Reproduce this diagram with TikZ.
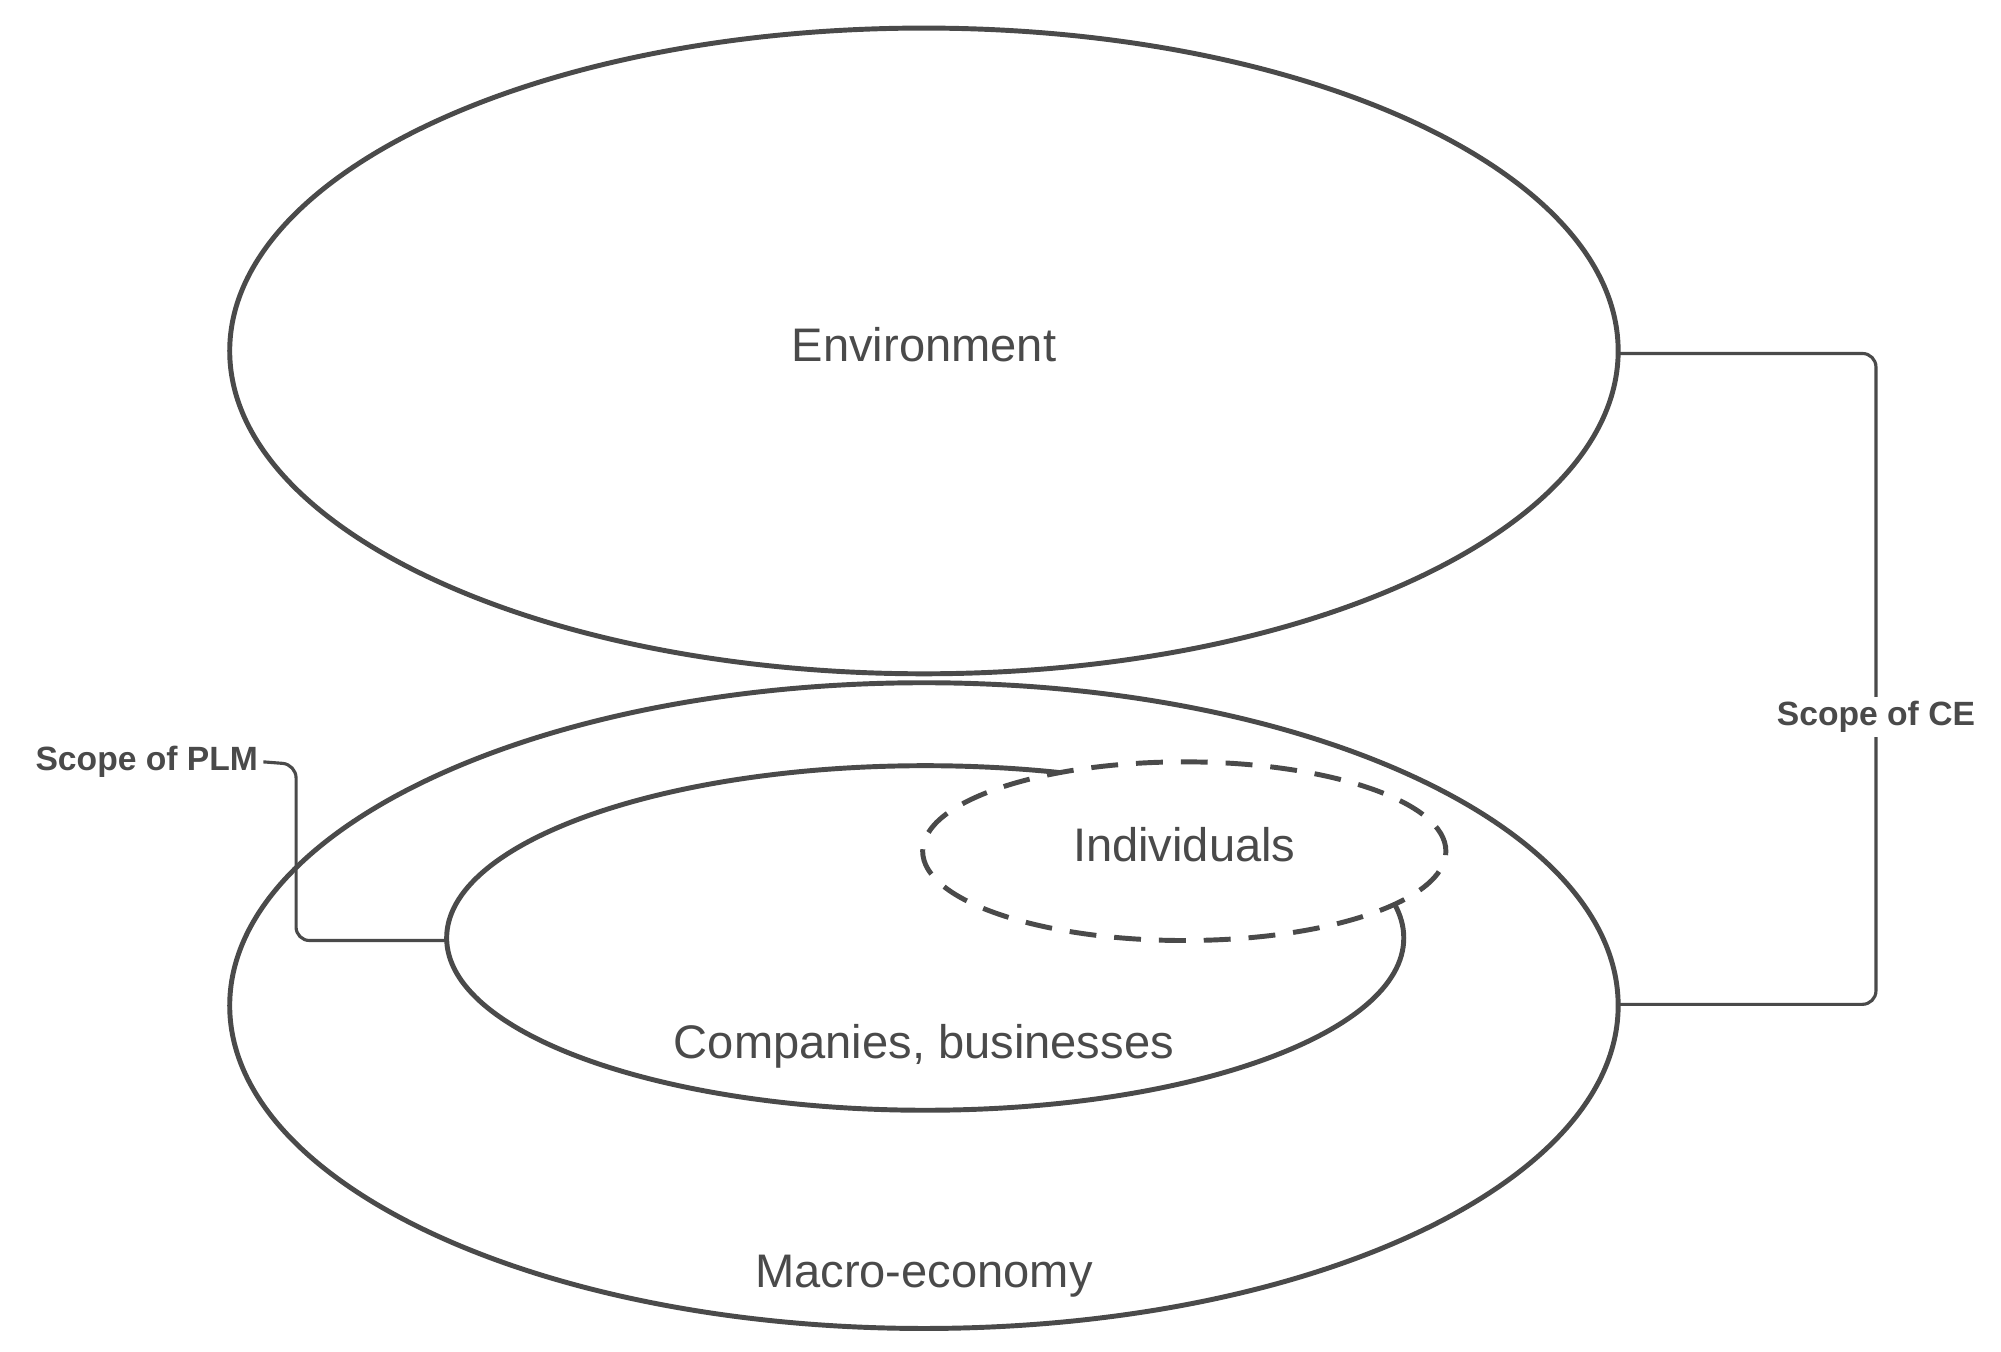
\documentclass[tikz,border=0pt]{standalone}
\usepackage{fontspec}
\setmainfont{Liberation Sans}
\usetikzlibrary{shapes.geometric}
\definecolor{ln}{HTML}{4A4A4A}
\begin{document}
\begin{tikzpicture}[
  ell/.style={ellipse,draw=ln,line width=1.1pt,inner sep=0pt,fill=white},
  lbl/.style={font=\fontsize{10.5}{12}\selectfont,text=ln},
  scope/.style={font=\bfseries\fontsize{7.5}{9}\selectfont,text=ln,fill=white,inner sep=1pt},
  conn/.style={draw=ln,line width=0.7pt,rounded corners=3pt}]
\useasboundingbox (0,0) rectangle (15.68,10.59);
\node[ell,minimum width=10.88cm,minimum height=5.06cm] (env) at (7.24,7.84) {};
\node[ell,minimum width=10.88cm,minimum height=5.06cm] (mac) at (7.24,2.71) {};
\node[ell,minimum width=7.5cm,minimum height=2.7cm] (com) at (7.25,3.24) {};
\node[ell,dashed,dash pattern=on 6pt off 4pt,minimum width=4.1cm,minimum height=1.4cm] (ind) at (9.28,3.92) {};
\node[lbl] (tenv) at (7.24,7.89) {Environment};
\node[lbl] (tmac) at (7.24,0.59) {Macro-economy};
\node[lbl] (tcom) at (7.24,2.39) {Companies, businesses};
\node[lbl] (tind) at (9.28,3.97) {Individuals};
\coordinate (ce1) at (12.68,7.82);
\coordinate (ce2) at (12.68,2.72);
\draw[conn] (ce1) -- (14.7,7.82) -- (14.7,2.72) -- (ce2);
\node[scope] (ce) at (14.7,4.97) {Scope of CE};
\node[scope,fill=none] (plm) at (1.15,4.62) {Scope of PLM};
\coordinate (pe) at (3.50,3.22);
\draw[conn] (plm.east) -- (2.32,4.6) -- (2.32,3.22) -- (pe);
\end{tikzpicture}
\end{document}
